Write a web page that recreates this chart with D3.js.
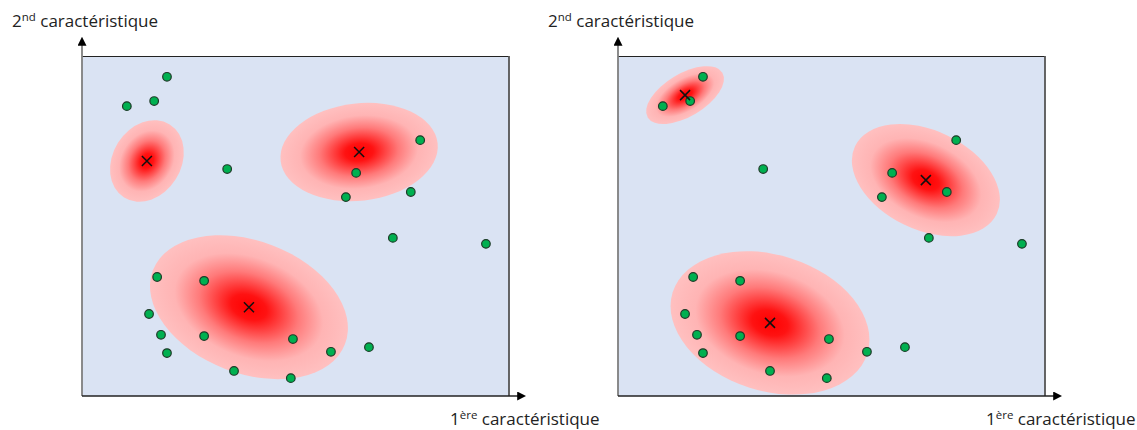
<!DOCTYPE html>
<html>
<head>
<meta charset="utf-8">
<script src="https://cdn.jsdelivr.net/npm/d3@7"></script>
<style>
  body { margin: 0; background: #fff; }
  text { font-family: "Open Sans", "Liberation Sans", sans-serif; fill: #222; }
</style>
</head>
<body>
<div id="vis"></div>
<script>
// data points (same in both panels), feature units x 0..100, y 0..80
var pointsX = [19.9, 10.5, 16.9, 34.0, 79.2, 64.2, 61.8, 77.0, 72.8, 94.6,
               17.6, 28.6, 15.7, 18.5, 28.6, 19.9, 35.6, 49.4, 48.9, 58.3, 67.2];
var pointsY = [75.1, 68.2, 69.4, 53.4, 60.2, 52.5, 46.8, 48.0, 37.2, 35.8,
               28.0, 27.1, 19.3, 14.4, 14.1, 10.1, 5.9, 13.4, 4.2, 10.4, 11.5];

// cluster centres and spread (left = start, right = after fitting)
var leftCx = [15.2, 64.9, 39.1];
var leftCy = [55.3, 57.4, 20.9];
var leftRx = [10.1, 18.5, 24.1];
var leftRy = [8.0, 11.4, 15.5];
var leftAngle = [-58, -6.5, 21];

var rightCx = [15.7, 72.1, 35.6];
var rightCy = [70.8, 50.8, 17.2];
var rightRx = [10.2, 18.4, 23.9];
var rightRy = [5.0, 11.6, 15.9];
var rightAngle = [-31, 25.6, 17.5];

var width = 1137, height = 430;
var svg = d3.select("#vis").append("svg").attr("width", width).attr("height", height);

var defs = svg.append("defs");
var grad = defs.append("radialGradient").attr("id", "blob");
grad.append("stop").attr("offset", "0%").attr("stop-color", "#ff0000");
grad.append("stop").attr("offset", "18%").attr("stop-color", "#ff1212");
grad.append("stop").attr("offset", "50%").attr("stop-color", "#ff7a7a");
grad.append("stop").attr("offset", "75%").attr("stop-color", "#ffb4b4");
grad.append("stop").attr("offset", "100%").attr("stop-color", "#ffc0c0");

defs.append("marker").attr("id", "arrow")
  .attr("viewBox", "0 0 10 10").attr("refX", 2).attr("refY", 5)
  .attr("markerWidth", 9).attr("markerHeight", 9).attr("markerUnits", "userSpaceOnUse")
  .attr("orient", "auto")
  .append("path").attr("d", "M0,0 L10,5 L0,10 z").attr("fill", "#000");

function panel(x0, cx, cy, rx, ry, angle, yLabelX, xLabelX){
  var top = 56, bottom = 396, w = 427;
  var x = d3.scaleLinear().domain([0, 100]).range([x0, x0 + w]);
  var y = d3.scaleLinear().domain([0, 80]).range([bottom, top]);
  var g = svg.append("g");

  g.append("rect").attr("x", x0).attr("y", top).attr("width", w).attr("height", bottom - top)
    .attr("fill", "#dae3f3");
  g.append("line").attr("x1", x0).attr("x2", x0 + w).attr("y1", top + 0.5).attr("y2", top + 0.5)
    .attr("stroke", "#222").attr("stroke-width", 1.2);
  g.append("line").attr("x1", x0 + w).attr("x2", x0 + w).attr("y1", top).attr("y2", bottom)
    .attr("stroke", "#555").attr("stroke-width", 1.8);

  // clusters
  var k = x(1) - x(0);
  var blobs = g.selectAll(".blob").data(d3.range(cx.length)).enter().append("g")
    .attr("transform", function(i){ return "translate(" + x(cx[i]) + "," + y(cy[i]) + ") rotate(" + angle[i] + ")"; });
  blobs.append("ellipse").attr("rx", function(i){ return rx[i] * k; })
    .attr("ry", function(i){ return ry[i] * k; })
    .attr("fill", "url(#blob)");

  // points
  g.selectAll(".pt").data(d3.range(pointsX.length)).enter().append("circle")
    .attr("cx", function(i){ return x(pointsX[i]); })
    .attr("cy", function(i){ return y(pointsY[i]); })
    .attr("r", 4.3)
    .attr("fill", "#00b050").attr("stroke", "#1e3b28").attr("stroke-width", 1.2);

  // centre crosses
  var s = 5;
  g.selectAll(".cross").data(d3.range(cx.length)).enter().append("path")
    .attr("d", function(i){
      var px = x(cx[i]), py = y(cy[i]);
      return "M" + (px - s) + "," + (py - s) + "L" + (px + s) + "," + (py + s) +
             "M" + (px - s) + "," + (py + s) + "L" + (px + s) + "," + (py - s);
    })
    .attr("stroke", "#111").attr("stroke-width", 1.5).attr("fill", "none");

  // axes with arrows
  g.append("line").attr("x1", x0).attr("y1", bottom).attr("x2", x0).attr("y2", 44)
    .attr("stroke", "#7f7f7f").attr("stroke-width", 1.8).attr("marker-end", "url(#arrow)");
  g.append("line").attr("x1", x0).attr("y1", bottom).attr("x2", x0 + w + 10).attr("y2", bottom)
    .attr("stroke", "#222").attr("stroke-width", 1.4).attr("marker-end", "url(#arrow)");

  var yl = g.append("text").attr("x", yLabelX).attr("y", 27).style("font-size", "17px");
  yl.append("tspan").text("2");
  yl.append("tspan").attr("dy", -6).style("font-size", "11.5px").text("nd");
  yl.append("tspan").attr("dy", 6).text(" caractéristique");

  var xl = g.append("text").attr("x", xLabelX).attr("y", 425).style("font-size", "17px");
  xl.append("tspan").text("1");
  xl.append("tspan").attr("dy", -6).style("font-size", "11.5px").text("ère");
  xl.append("tspan").attr("dy", 6).text(" caractéristique");
}

panel(82, leftCx, leftCy, leftRx, leftRy, leftAngle, 12, 450);
panel(618, rightCx, rightCy, rightRx, rightRy, rightAngle, 548, 986);
</script>
</body>
</html>
